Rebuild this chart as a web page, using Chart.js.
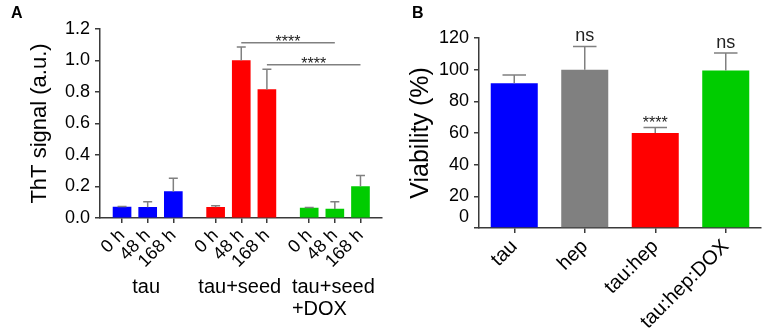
<!DOCTYPE html>
<html><head><meta charset="utf-8">
<script src="https://cdn.jsdelivr.net/npm/chart.js@4.4.0/dist/chart.umd.min.js"></script>
<style>
html,body{margin:0;padding:0;background:#fff;width:765px;height:332px;overflow:hidden}
#wa{position:absolute;left:0;top:0;width:395px;height:332px}
#wb{position:absolute;left:390px;top:0;width:375px;height:332px}
</style></head><body>
<div id="wa"><canvas id="ca"></canvas></div>
<div id="wb"><canvas id="cb"></canvas></div>
<script>
// ---------- data ----------
const groupLabels = [['tau'], ['tau+seed'], ['tau+seed', '+DOX']];
const timeLabels = ['0 h', '48 h', '168 h'];
const groupColors = ['#0000ff', '#ff0000', '#00cc00'];
const thtMean = [0.070, 0.068, 0.167, 0.068, 1.000, 0.815, 0.063, 0.057, 0.200];
const thtErr  = [0.003, 0.035, 0.085, 0.010, 0.085, 0.130, 0.004, 0.046, 0.070];
const thtTicks = [0, 0.2, 0.4, 0.6, 0.8, 1.0, 1.2];
const sigFrom = [4, 5];
const sigTo = [7, 8];
const sigLevel = [1.113, 0.973];
const sigText = ['****', '****'];

const viabLabels = ['tau', 'hep', 'tau:hep', 'tau:hep:DOX'];
const viabColors = ['#0000ff', '#808080', '#ff0000', '#00cc00'];
const viabMean = [91.5, 100, 60, 99.5];
const viabErr = [5.2, 14.6, 3.4, 11.0];
const viabMarks = ['', 'ns', '****', 'ns'];
const viabTicks = [0, 20, 40, 60, 80, 100, 120];

// ---------- styling ----------
const FONT = '"Liberation Sans", Arial, Helvetica, sans-serif';
const AXIS = '#3a3a3a';
const ERRC = '#808080';
const TXT = '#000';
const GROUP_GAP = 0.65;

const idxA = thtMean.map((_, k) => k);
const xA = idxA.map(k => Math.floor(k / 3) * (3 + GROUP_GAP) + k % 3);
const labelsA = idxA.map(k => timeLabels[k % 3]);

function errorPlugin(means, errs) {
  return {
    id: 'errbars',
    afterDatasetsDraw(chart) {
      const ctx = chart.ctx, ys = chart.scales.y;
      const meta = chart.getDatasetMeta(0);
      ctx.save();
      ctx.strokeStyle = ERRC; ctx.lineWidth = 1.5;
      meta.data.forEach((bar, i) => {
        const top = ys.getPixelForValue(means[i] + errs[i]);
        const base = ys.getPixelForValue(means[i]);
        const half = bar.width / 4;
        ctx.beginPath();
        ctx.moveTo(bar.x, base); ctx.lineTo(bar.x, top);
        ctx.moveTo(bar.x - half, top); ctx.lineTo(bar.x + half, top);
        ctx.stroke();
      });
      ctx.restore();
    }
  };
}
function letterPlugin(letter, x, y) {
  return {
    id: 'letter',
    afterDraw(chart) {
      const ctx = chart.ctx;
      ctx.save();
      ctx.font = 'bold 16px ' + FONT; ctx.fillStyle = '#000';
      ctx.textBaseline = 'alphabetic'; ctx.textAlign = 'left';
      ctx.fillText(letter, x, y);
      ctx.restore();
    }
  };
}
const sigPlugin = {
  id: 'sig',
  afterDatasetsDraw(chart) {
    const ctx = chart.ctx, xs = chart.scales.x, ys = chart.scales.y;
    ctx.save();
    sigFrom.forEach((f, i) => {
      const x1 = xs.getPixelForValue(xA[f]), x2 = xs.getPixelForValue(xA[sigTo[i]]);
      const y = ys.getPixelForValue(sigLevel[i]);
      ctx.strokeStyle = ERRC; ctx.lineWidth = 1.5;
      ctx.beginPath(); ctx.moveTo(x1, y); ctx.lineTo(x2, y); ctx.stroke();
      ctx.font = '16px ' + FONT; ctx.fillStyle = '#222';
      ctx.textAlign = 'center'; ctx.textBaseline = 'alphabetic';
      ctx.fillText(sigText[i], (x1 + x2) / 2, y + 4);
    });
    ctx.restore();
  }
};
const groupPlugin = {
  id: 'groups',
  afterDraw(chart) {
    const ctx = chart.ctx, xs = chart.scales.x;
    const bottom = chart.chartArea.bottom;
    ctx.save();
    ctx.font = '20px ' + FONT; ctx.fillStyle = TXT;
    ctx.textBaseline = 'alphabetic'; ctx.textAlign = 'left';
    groupLabels.forEach((lines, g) => {
      const c = xs.getPixelForValue(xA[g * 3 + 1]) - 1.5;
      const w = Math.max(...lines.map(l => ctx.measureText(l).width));
      lines.forEach((l, j) => ctx.fillText(l, c - w / 2, bottom + 74.5 + j * 22.5));
    });
    ctx.restore();
  }
};
const marksPlugin = {
  id: 'marks',
  afterDatasetsDraw(chart) {
    const ctx = chart.ctx, ys = chart.scales.y;
    const meta = chart.getDatasetMeta(0);
    ctx.save();
    ctx.fillStyle = '#222'; ctx.textAlign = 'center'; ctx.textBaseline = 'alphabetic';
    meta.data.forEach((bar, i) => {
      const m = viabMarks[i];
      if (!m) return;
      const top = ys.getPixelForValue(viabMean[i] + viabErr[i]);
      if (m === 'ns') { ctx.font = '18px ' + FONT; ctx.fillText(m, bar.x, top - 5.5); }
      else { ctx.font = '16px ' + FONT; ctx.fillText(m, bar.x, top + 0.5); }
    });
    ctx.restore();
  }
};

Chart.defaults.font.family = FONT;
Chart.defaults.color = TXT;

new Chart(document.getElementById('ca'), {
  type: 'bar',
  data: { datasets: [{
    data: thtMean.map((v, k) => ({ x: xA[k], y: v })),
    backgroundColor: idxA.map(k => groupColors[Math.floor(k / 3)]),
    borderWidth: 0, barThickness: 18
  }]},
  options: {
    responsive: true, maintainAspectRatio: false, animation: false,
    layout: { padding: { top: 29, right: 13.5, left: 0, bottom: 0 } },
    plugins: { legend: { display: false }, tooltip: { enabled: false } },
    scales: {
      x: {
        type: 'linear', min: xA[0] - 0.86, max: xA[xA.length - 1] + 0.82, offset: false,
        afterBuildTicks: s => { s.ticks = xA.map(v => ({ value: v })); },
        afterFit: s => { s.height = 114; },
        ticks: { autoSkip: false, minRotation: 45, maxRotation: 45, padding: 2,
                 font: { size: 18 }, color: TXT, callback: (v, i) => labelsA[i] },
        grid: { drawOnChartArea: false, drawTicks: true, tickLength: 5, color: AXIS, lineWidth: 1.5, offset: false },
        border: { color: AXIS, width: 1.5 }
      },
      y: {
        min: 0, max: 1.2,
        afterBuildTicks: s => { s.ticks = thtTicks.map(v => ({ value: v })); },
        afterFit: s => { s.width = 100; },
        ticks: { autoSkip: false, padding: 5, font: { size: 18 }, color: TXT, callback: v => Number(v).toFixed(1) },
        grid: { drawOnChartArea: false, tickLength: 5, color: AXIS, lineWidth: 1.5 },
        border: { color: AXIS, width: 1.5 },
        title: { display: true, text: 'ThT signal (a.u.)', font: { size: 22 }, color: TXT, padding: { top: 27, bottom: 0 } }
      }
    }
  },
  plugins: [errorPlugin(thtMean, thtErr), sigPlugin, groupPlugin, letterPlugin('A', 11, 18)]
});

new Chart(document.getElementById('cb'), {
  type: 'bar',
  data: { labels: viabLabels, datasets: [{
    data: viabMean, backgroundColor: viabColors, borderWidth: 0,
    barPercentage: 0.667, categoryPercentage: 1.0
  }]},
  options: {
    responsive: true, maintainAspectRatio: false, animation: false,
    layout: { padding: { top: 38, right: 4, left: 0, bottom: 0 } },
    plugins: { legend: { display: false }, tooltip: { enabled: false } },
    scales: {
      x: {
        afterFit: s => { s.height = 104; },
        ticks: { autoSkip: false, minRotation: 45, maxRotation: 45, padding: 2, font: { size: 20 }, color: TXT },
        grid: { drawOnChartArea: false, drawTicks: true, tickLength: 5, color: AXIS, lineWidth: 1.5, offset: false },
        border: { color: AXIS, width: 1.5 }
      },
      y: {
        min: 0, max: 120,
        afterBuildTicks: s => { s.ticks = viabTicks.map(v => ({ value: v })); },
        afterFit: s => { s.width = 89; },
        ticks: { autoSkip: false, padding: 5, font: { size: 18 }, color: TXT, callback: v => (v === 0 ? ['0', ''] : String(v)) },
        grid: { drawOnChartArea: false, tickLength: 5, color: AXIS, lineWidth: 1.5 },
        border: { color: AXIS, width: 1.5 },
        title: { display: true, text: 'Viability (%)', font: { size: 25 }, color: TXT, padding: { top: 16, bottom: 0 } }
      }
    }
  },
  plugins: [errorPlugin(viabMean, viabErr), marksPlugin, letterPlugin('B', 22, 18)]
});
</script>
</body></html>
